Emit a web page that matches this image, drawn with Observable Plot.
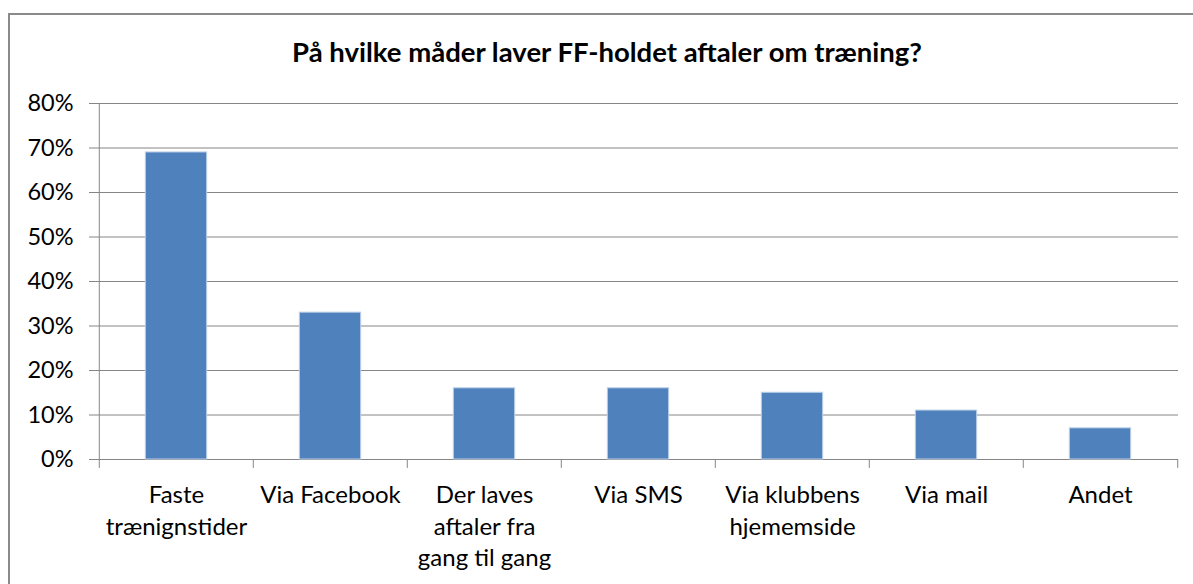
<!DOCTYPE html>
<html>
<head>
<meta charset="utf-8">
<script src="https://cdn.jsdelivr.net/npm/d3@7"></script>
<script src="https://cdn.jsdelivr.net/npm/@observablehq/plot@0.6"></script>
<style>
  html, body { margin: 0; padding: 0; width: 1193px; height: 584px; overflow: hidden; background: #fff; }
  #frame { position: absolute; left: 8px; top: 13px; width: 1210px; height: 610px; border: 2px solid #8a8a8a; box-sizing: border-box; }
  #title { position: absolute; left: 0; top: 38px; width: 1214px; text-align: center; font-family: Lato, sans-serif; font-weight: bold; font-size: 27.5px; line-height: 1; color: #000; }
  #chart { position: absolute; left: 0; top: 0; }
</style>
</head>
<body>
<div id="frame"></div>
<div id="title">På hvilke måder laver FF-holdet aftaler om træning?</div>
<div id="chart"></div>
<script>
const categories = ["Faste trænignstider", "Via Facebook", "Der laves aftaler fra gang til gang", "Via SMS", "Via klubbens hjememside", "Via mail", "Andet"];
const labelLines = ["Faste\ntrænignstider", "Via Facebook", "Der laves\naftaler fra\ngang til gang", "Via SMS", "Via klubbens\nhjememside", "Via mail", "Andet"];
const values = [0.69, 0.33, 0.16, 0.16, 0.15, 0.11, 0.07];
const yTicks = [0, 0.1, 0.2, 0.3, 0.4, 0.5, 0.6, 0.7, 0.8];

const data = categories.map((c, i) => ({category: c, value: values[i]}));
const labelOf = new Map(categories.map((c, i) => [c, labelLines[i]]));

const W = 1193, H = 584, mL = 97, mR = 15, mT = 103, mB = 125;
const bw = (W - mL - mR) / categories.length;
const grid = "#868686";

const plot = Plot.plot({
  width: W, height: H,
  marginLeft: mL, marginRight: mR, marginTop: mT, marginBottom: mB,
  style: {fontFamily: "Lato, sans-serif", fontSize: "24px", color: "#000", background: "transparent"},
  x: {domain: categories, padding: 0, axis: null},
  y: {domain: [0, 0.8], axis: null},
  marks: [
    Plot.ruleY(yTicks, {stroke: grid, strokeWidth: 1}),
    Plot.ruleX([categories[0]], {x: d => d, dx: -bw / 2, y1: -0.02, y2: 0.8, stroke: grid}),
    Plot.ruleX(categories.slice(1), {x: d => d, dx: -bw / 2, y1: -0.02, y2: 0, stroke: grid}),
    Plot.ruleX(categories.slice(-1), {x: d => d, dx: bw / 2, y1: -0.02, y2: 0, stroke: grid}),
    Plot.barY(data, {x: "category", y: "value", fill: "#4F81BD", stroke: "#BCD0E8", strokeWidth: 1, insetLeft: bw * 0.3, insetRight: bw * 0.3}),
    Plot.axisY({ticks: yTicks, tickFormat: d3.format(".0%"), tickSize: 8, tickPadding: 16, stroke: grid, fill: "#000", fontSize: 23.5, label: null}),
    Plot.axisX({tickSize: 0, tickPadding: 21, fontSize: 24, lineHeight: 1.32, fill: "#000", label: null, tickFormat: d => labelOf.get(d)})
  ]
});
document.getElementById("chart").appendChild(plot);
</script>
</body>
</html>
